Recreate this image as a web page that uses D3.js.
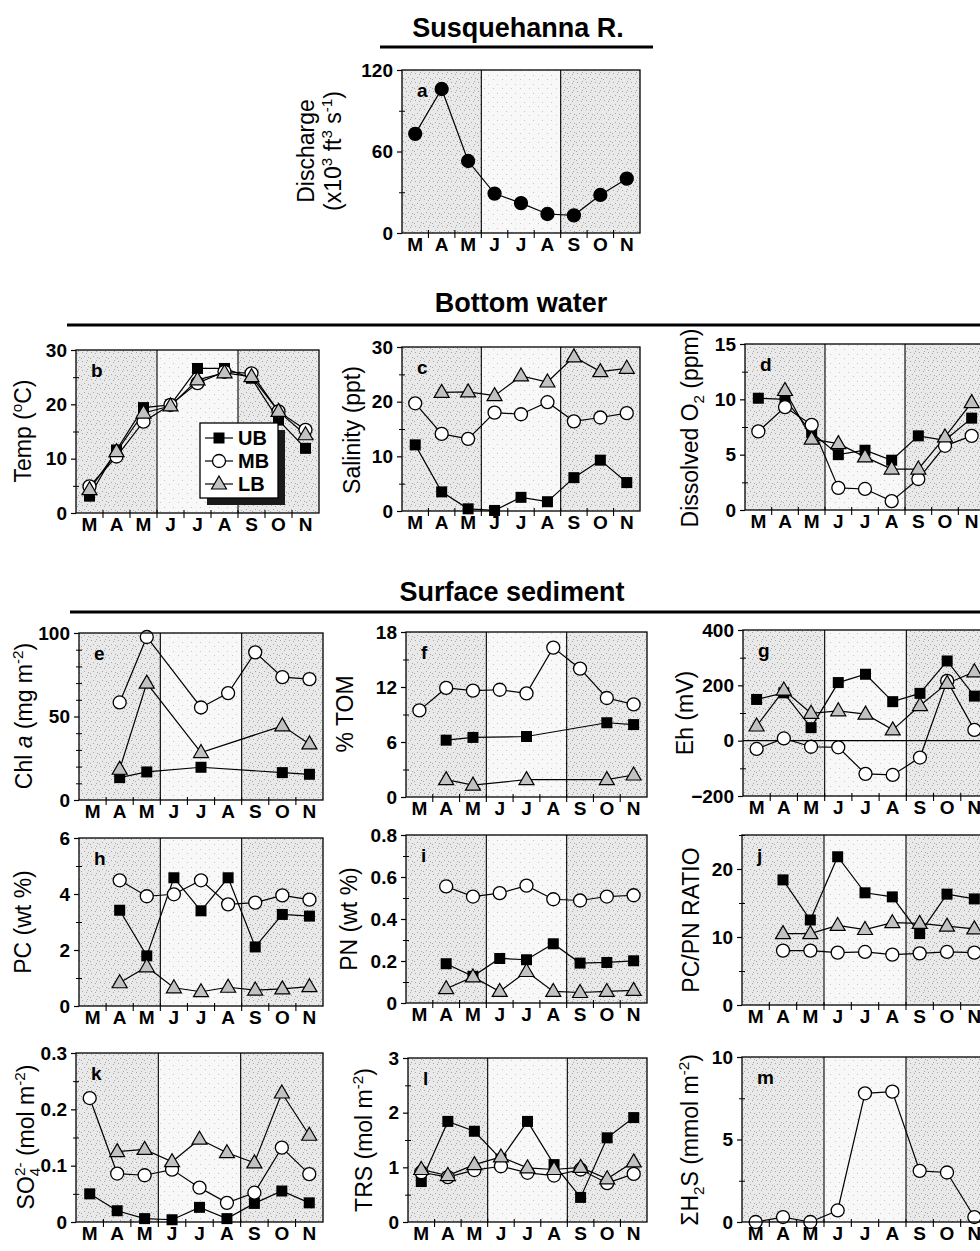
<!DOCTYPE html>
<html><head><meta charset="utf-8">
<script src="https://cdn.jsdelivr.net/npm/d3@7"></script>
<style>
body{margin:0;background:#fff}
svg{display:block}
text{font-family:"Liberation Sans",Arial,Helvetica,sans-serif;fill:#000}
</style>
</head><body>
<svg id="chart" width="980" height="1251"></svg>
<script>
// ---------- data ----------
const months = ["M","A","M","J","J","A","S","O","N"];
const stations = ["UB","MB","LB"];

const discharge = [73,106,53,29,22,14,13,28,40];

const tempUB = [3.1,11.6,19.4,19.9,26.6,26.6,24.8,17.1,11.9];
const tempMB = [4.9,10.4,16.8,19.9,23.9,26.0,25.7,18.7,15.3];
const tempLB = [4.3,11.3,18.4,19.7,24.5,25.8,25.1,18.7,14.4];

const salUB = [12.1,3.5,0.4,0.1,2.5,1.7,6.1,9.3,5.2];
const salMB = [19.7,14.1,13.2,18.0,17.7,19.9,16.4,17.1,17.9];
const salLB = [null,21.7,21.8,21.1,24.7,23.6,28.2,25.5,26.1];

const oxyUB = [10.1,10.0,7.0,5.0,5.4,4.5,6.7,6.3,8.3];
const oxyMB = [7.1,9.3,7.7,2.0,1.9,0.8,2.8,5.8,6.7];
const oxyLB = [null,10.8,6.4,6.0,4.8,3.7,3.7,6.6,9.7];

const chlUB = [null,13.4,16.8,null,19.6,null,null,16.4,15.4];
const chlMB = [null,58.4,97.6,null,55.4,64.0,88.4,73.6,72.4];
const chlLB = [null,18.4,70.0,null,28.4,null,null,44.4,33.6];

const tomUB = [null,6.2,6.5,null,6.6,null,null,8.1,7.9];
const tomMB = [9.45,11.9,11.6,11.7,11.3,16.3,14.0,10.8,10.1];
const tomLB = [null,1.9,1.3,null,1.9,null,null,1.9,2.4];

const ehUB = [149,173,47,210,240,141,171,288,161];
const ehMB = [-30,8,-22,-24,-120,-124,-61,216,39];
const ehLB = [53,183,99,108,96,39,127,207,249];

const pcUB = [null,3.42,1.79,4.58,3.40,4.58,2.11,3.27,3.21];
const pcMB = [null,4.49,3.92,3.99,4.49,3.63,3.69,3.95,3.80];
const pcLB = [null,0.83,1.40,0.65,0.51,0.67,0.57,0.61,0.69];

const pnUB = [null,0.187,0.127,0.212,0.206,0.282,0.190,0.193,0.201];
const pnMB = [null,0.555,0.507,0.523,0.559,0.494,0.488,0.507,0.513];
const pnLB = [null,0.068,0.124,0.055,0.150,0.055,0.050,0.055,0.060];

const ratioUB = [null,18.4,12.5,21.8,16.5,15.9,10.5,16.3,15.6];
const ratioMB = [null,8.0,8.0,7.7,7.8,7.4,7.6,7.8,7.7];
const ratioLB = [null,10.5,10.5,11.7,11.1,12.1,12.0,11.6,11.2];

const so4UB = [0.050,0.020,0.006,0.004,0.026,0.006,0.033,0.055,0.034];
const so4MB = [0.220,0.086,0.083,0.093,0.061,0.034,0.052,0.132,0.085];
const so4LB = [null,0.125,0.129,0.107,0.147,0.123,0.105,0.229,0.154];

const trsUB = [0.74,1.84,1.66,1.15,1.84,1.05,0.45,1.54,1.91];
const trsMB = [0.91,0.82,0.95,1.02,0.90,0.85,0.96,0.71,0.88];
const trsLB = [0.96,0.85,1.05,1.19,0.99,0.96,1.00,0.79,1.10];

const h2sMB = [0.0,0.3,0.0,0.7,7.8,7.9,3.1,3.0,0.3];

// tick values
const ticksA = [0,60,120], minorA = [30,90];
const ticks30 = [0,10,20,30], minor30 = [5,15,25];
const ticksD = [0,5,10,15], minorD = [2.5,7.5,12.5];
const ticksE = [0,50,100], minorE = [10,20,30,40,60,70,80,90];
const ticksF = [0,6,12,18], minorF = [3,9,15];
const ticksG = [-200,0,200,400], minorG = [-100,100,300];
const ticksH = [0,2,4,6], minorH = [1,3,5];
const ticksI = [0,0.2,0.4,0.6,0.8], minorI = [0.1,0.3,0.5,0.7];
const ticksJ = [0,10,20], minorJ = [5,15,25];
const ticksK = [0,0.1,0.2,0.3], minorK = [0.05,0.15,0.25];
const ticksL = [0,1,2,3], minorL = [0.5,1.5,2.5];
const ticksM = [0,5,10], minorM = [2.5,7.5];

// ---------- drawing ----------
const svg = d3.select("#chart");
const FONT_TICK = 19, FONT_LAB = 23;

// stipple patterns for the season bands
const defs = svg.append("defs");
function stipple(id, base, dot, pts){
  const p = defs.append("pattern").attr("id",id).attr("patternUnits","userSpaceOnUse")
    .attr("width",9).attr("height",9);
  p.append("rect").attr("width",9).attr("height",9).attr("fill",base);
  pts.forEach(([a,b]) => p.append("rect").attr("x",a).attr("y",b).attr("width",1).attr("height",1).attr("fill",dot));
}
stipple("dense","#e9e9e9","#a8a8a8",[[1,1],[5,2],[3,5],[7,6],[0,7],[6,0]]);
stipple("light","#f8f8f8","#c8c8c8",[[2,3],[7,7]]);

function rich(sel, parts, fs){
  let off = 0;
  parts.forEach(p => {
    const t = typeof p === "string" ? p : p[0];
    const k = typeof p === "string" ? "" : p[1];
    let target = 0, size = fs, dx = 0, style = null;
    if (k === "sup"){ target = -0.38*fs; size = 0.66*fs; }
    else if (k === "sub"){ target = 0.24*fs; size = 0.66*fs; }
    else if (k === "supback"){ target = -0.40*fs; size = 0.66*fs; dx = -0.36*fs; }
    else if (k === "it"){ style = "italic"; }
    const ts = sel.append("tspan").text(t).attr("font-size", size).attr("dy", target - off);
    if (dx) ts.attr("dx", dx);
    if (style) ts.attr("font-style", style);
    off = target;
  });
}

function yLabel(cx, cy, parts, fs){
  fs = fs || FONT_LAB;
  const t = svg.append("text")
    .attr("transform", `translate(${cx + 0.35*fs},${cy}) rotate(-90)`)
    .attr("text-anchor","middle").attr("font-size", fs);
  rich(t, parts, fs);
}

function marker(g, type, x, y){
  if (type === "UB" ){
    g.append("rect").attr("x",x-5.5).attr("y",y-5.5).attr("width",11).attr("height",11).attr("fill","#000");
  } else if (type === "MB" || type === "disc"){
    g.append("circle").attr("cx",x).attr("cy",y).attr("r", 6.5)
      .attr("fill", type === "disc" ? "#000" : "#fff").attr("stroke","#000").attr("stroke-width",1.3);
  } else {
    g.append("path").attr("d",`M${x},${y-8}L${x+7.5},${y+5}L${x-7.5},${y+5}Z`)
      .attr("fill","#c2c2c2").attr("stroke","#000").attr("stroke-width",1.2);
  }
}

function panel(o){
  const g = svg.append("g");
  const x = d3.scaleBand().domain(d3.range(9)).range([o.x0, o.x1]);
  const bw = x.bandwidth();
  const cx = i => x(i) + bw/2;
  const y = d3.scaleLinear().domain(o.domain).range([o.y1, o.y0]);

  // season backgrounds
  [[0,3,"url(#dense)"],[3,6,"url(#light)"],[6,9,"url(#dense)"]].forEach(([a,b,c]) => {
    g.append("rect").attr("x", x(a)).attr("y", o.y0)
      .attr("width", bw*(b-a)).attr("height", o.y1 - o.y0).attr("fill", c);
  });
  // season dividers
  [3,6].forEach(i => g.append("line").attr("x1",x(i)).attr("x2",x(i))
    .attr("y1",o.y0).attr("y2",o.y1).attr("stroke","#000").attr("stroke-width",1.1));
  if (o.zero){
    g.append("line").attr("x1",o.x0).attr("x2",o.x1).attr("y1",y(0)).attr("y2",y(0))
      .attr("stroke","#000").attr("stroke-width",1.1);
  }
  // lines
  const line = d3.line().x(d => cx(d.i)).y(d => y(d.v));
  o.series.forEach(s => {
    const pts = s.data.map((v,i) => ({v,i})).filter(d => d.v !== null);
    g.append("path").attr("d", line(pts)).attr("fill","none")
      .attr("stroke","#000").attr("stroke-width",1.2);
  });
  o.series.forEach(s => {
    s.data.forEach((v,i) => { if (v !== null) marker(g, s.type, cx(i), y(v)); });
  });
  // frame
  g.append("rect").attr("x",o.x0).attr("y",o.y0).attr("width",o.x1-o.x0).attr("height",o.y1-o.y0)
    .attr("fill","none").attr("stroke","#000").attr("stroke-width",1.3);

  // y axis major
  const ya = g.append("g").attr("transform",`translate(${o.x0},0)`)
    .call(d3.axisLeft(y).tickValues(o.ticks).tickSize(5).tickPadding(4).tickFormat(o.fmt || d3.format("")));
  ya.select(".domain").remove();
  ya.selectAll("text").attr("font-size",FONT_TICK).attr("font-weight","bold")
    .attr("font-family",'"Liberation Sans",Arial,sans-serif');
  ya.selectAll("line").attr("stroke-width",1.2);
  const ym = g.append("g").attr("transform",`translate(${o.x0},0)`)
    .call(d3.axisLeft(y).tickValues(o.minor).tickSize(3).tickFormat(""));
  ym.select(".domain").remove();
  ym.selectAll("line").attr("x2",-3).attr("x1",3).attr("stroke-width",1);

  // x axis: labels at band centres, ticks at band edges
  const xa = g.append("g").attr("transform",`translate(0,${o.y1})`)
    .call(d3.axisBottom(x).tickSize(0).tickPadding(5).tickFormat(i => months[i]));
  xa.select(".domain").remove();
  xa.selectAll("text").attr("font-size",FONT_TICK).attr("font-weight","bold")
    .attr("font-family",'"Liberation Sans",Arial,sans-serif');
  d3.range(1,9).forEach(i => g.append("line").attr("x1",x(i)).attr("x2",x(i))
    .attr("y1",o.y1-3).attr("y2",o.y1+5).attr("stroke","#000").attr("stroke-width",1.1));

  // panel letter
  g.append("text").attr("x",o.x0+15).attr("y",o.y0+27).attr("font-size",19)
    .attr("font-weight","bold").text(o.letter);
  return {x, y};
}

function section(title, cx, base, lineY, lx0, lx1){
  svg.append("text").attr("x",cx).attr("y",base).attr("text-anchor","middle")
    .attr("font-size",27).attr("font-weight","bold").text(title);
  svg.append("line").attr("x1",lx0).attr("x2",lx1).attr("y1",lineY).attr("y2",lineY)
    .attr("stroke","#000").attr("stroke-width",3);
}

const S = (a,b,c) => [{data:a,type:"UB"},{data:b,type:"MB"},{data:c,type:"LB"}].filter(s => s.data);

// Section titles
section("Susquehanna R.", 518, 37, 47, 380, 653);
section("Bottom water", 521, 312, 325, 67, 980);
section("Surface sediment", 512, 601, 612, 70, 980);

// a
panel({x0:402,x1:640,y0:70,y1:233,domain:[0,120],ticks:ticksA,minor:minorA,letter:"a",
  series:[{data:discharge,type:"disc"}]});
yLabel(306,151,["Discharge"]);
yLabel(333,151,["(x10",["3","sup"]," ft",["3","sup"]," s",["-1","sup"],")"]);

// b
panel({x0:76,x1:319,y0:350,y1:513,domain:[0,30],ticks:ticks30,minor:minor30,letter:"b",
  series:S(tempUB,tempMB,tempLB)});
yLabel(23,431,["Temp (",["o","sup"],"C)"]);
// legend
(function(){
  const lx = 200, ly = 423, lw = 78, lh = 75;
  svg.append("rect").attr("x",lx+7).attr("y",ly+7).attr("width",lw).attr("height",lh).attr("fill","#1a1a1a");
  svg.append("rect").attr("x",lx).attr("y",ly).attr("width",lw).attr("height",lh)
    .attr("fill","#fff").attr("stroke","#000").attr("stroke-width",1.3);
  const lg = svg.append("g");
  stations.forEach((s,i) => {
    const yy = ly + 15 + i*23;
    lg.append("line").attr("x1",lx+5).attr("x2",lx+33).attr("y1",yy).attr("y2",yy)
      .attr("stroke","#000").attr("stroke-width",1.2);
    marker(lg, s, lx+19, yy);
    lg.append("text").attr("x",lx+38).attr("y",yy+7).attr("font-size",20)
      .attr("font-weight","bold").text(s);
  });
})();

// c
panel({x0:402,x1:640,y0:347,y1:511,domain:[0,30],ticks:ticks30,minor:minor30,letter:"c",
  series:S(salUB,salMB,salLB)});
yLabel(352,430,["Salinity (ppt)"]);

// d
panel({x0:745,x1:985,y0:344,y1:510,domain:[0,15],ticks:ticksD,minor:minorD,letter:"d",
  series:S(oxyUB,oxyMB,oxyLB)});
yLabel(690,428,["Dissolved O",["2","sub"]," (ppm)"]);

// e
panel({x0:79,x1:323,y0:633,y1:800,domain:[0,100],ticks:ticksE,minor:minorE,letter:"e",
  series:S(chlUB,chlMB,chlLB)});
yLabel(24,716,["Chl ",["a","it"]," (mg m",["-2","sup"],")"]);

// f
panel({x0:406,x1:647,y0:632,y1:797,domain:[0,18],ticks:ticksF,minor:minorF,letter:"f",
  series:S(tomUB,tomMB,tomLB)});
yLabel(345,714,["% TOM"]);

// g
panel({x0:743,x1:988,y0:630,y1:796,domain:[-200,400],ticks:ticksG,minor:minorG,letter:"g",zero:true,
  series:S(ehUB,ehMB,ehLB)});
yLabel(685,713,["Eh (mV)"]);

// h
panel({x0:79,x1:323,y0:838,y1:1006,domain:[0,6],ticks:ticksH,minor:minorH,letter:"h",
  series:S(pcUB,pcMB,pcLB)});
yLabel(23,922,["PC (wt %)"]);

// i
panel({x0:406,x1:647,y0:835,y1:1003,domain:[0,0.8],ticks:ticksI,minor:minorI,letter:"i",
  fmt:d => d === 0 ? "0" : d3.format(".1f")(d), series:S(pnUB,pnMB,pnLB)});
yLabel(349,919,["PN (wt %)"]);

// j
panel({x0:742,x1:988,y0:835,y1:1005,domain:[0,25],ticks:ticksJ,minor:minorJ,letter:"j",
  series:S(ratioUB,ratioMB,ratioLB)});
yLabel(691,920,["PC/PN RATIO"]);

// k
panel({x0:76,x1:323,y0:1053,y1:1222,domain:[0,0.3],ticks:ticksK,minor:minorK,letter:"k",
  fmt:d => d === 0 ? "0" : d3.format(".1f")(d), series:S(so4UB,so4MB,so4LB)});
yLabel(26,1137,["SO",["4","sub"],["2-","supback"]," (mol m",["-2","sup"],")"]);

// l
panel({x0:408,x1:647,y0:1058,y1:1222,domain:[0,3],ticks:ticksL,minor:minorL,letter:"l",
  series:S(trsUB,trsMB,trsLB)});
yLabel(364,1140,["TRS (mol m",["-2","sup"],")"]);

// m
panel({x0:742,x1:988,y0:1057,y1:1222,domain:[0,10],ticks:ticksM,minor:minorM,letter:"m",
  series:[{data:h2sMB,type:"MB"}]});
yLabel(690,1140,["ΣH",["2","sub"],"S (mmol m",["-2","sup"],")"]);
</script>
</body></html>
